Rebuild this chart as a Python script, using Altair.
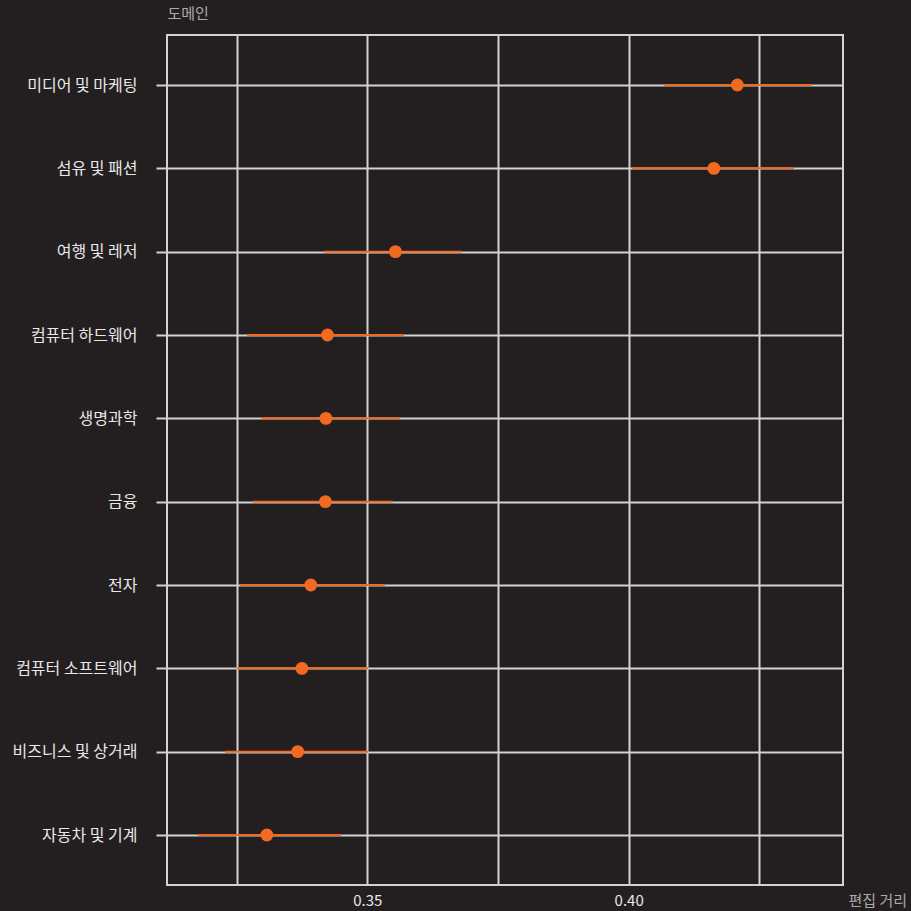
import altair as alt
import pandas as pd

domains = ["미디어 및 마케팅", "섬유 및 패션", "여행 및 레저", "컴퓨터 하드웨어", "생명과학",
           "금융", "전자", "컴퓨터 소프트웨어", "비즈니스 및 상거래", "자동차 및 기계"]
means = [0.4208, 0.4163, 0.3554, 0.3424, 0.3421, 0.3420, 0.3392, 0.3375, 0.3367, 0.3308]
lows = [0.4068, 0.4007, 0.3417, 0.3270, 0.3297, 0.3281, 0.3257, 0.3250, 0.3228, 0.3176]
highs = [0.4350, 0.4316, 0.3681, 0.3570, 0.3562, 0.3549, 0.3534, 0.3502, 0.3502, 0.3451]
grid_values = [0.325, 0.35, 0.375, 0.40, 0.425]

df = pd.DataFrame({"domain": domains, "mean": means, "lo": lows, "hi": highs})

BG = "#231f20"
GRID = "#d2d2d2"
ORANGE = "#f26a22"
FONT = "Noto Sans CJK KR"

xscale = alt.Scale(domain=[0.3117, 0.4410], nice=False, zero=False)
yscale = alt.Scale(type="point", padding=0.6)

xaxis = alt.Axis(
    values=grid_values,
    labelExpr="indexof(['0.35','0.40'], format(datum.value,'.2f')) >= 0 ? format(datum.value,'.2f') : ''",
    grid=True, gridColor=GRID, gridWidth=2,
    ticks=False, domain=False,
    labelPadding=8, labelFontSize=15, labelColor="#e8e8e8", labelFont=FONT,
    title="편집 거리", titleFont=FONT, titleFontSize=15, titleFontWeight="normal",
    titleColor="#a9a9a9", titleX=681, titleY=20, titleAlign="left",
    titleBaseline="alphabetic", titleAngle=0,
)
yaxis = alt.Axis(
    grid=True, gridColor=GRID, gridWidth=2,
    ticks=True, tickColor=GRID, tickWidth=2, tickSize=11,
    domain=False,
    labelPadding=19, labelFontSize=16, labelColor="#e8e8e8", labelFont=FONT,
    title="도메인", titleFont=FONT, titleFontSize=15, titleFontWeight="normal",
    titleColor="#a9a9a9", titleX=0, titleY=-17, titleAlign="left",
    titleBaseline="alphabetic", titleAngle=0,
)

base = alt.Chart(df)
rules = base.mark_rule(color=ORANGE, strokeWidth=2).encode(
    x=alt.X("lo:Q", scale=xscale, axis=xaxis),
    x2="hi:Q",
    y=alt.Y("domain:N", sort=domains, scale=yscale, axis=yaxis),
)
points = base.mark_circle(color=ORANGE, size=165, opacity=1).encode(
    x=alt.X("mean:Q", scale=xscale),
    y=alt.Y("domain:N", sort=domains, scale=yscale),
)

chart = (rules + points).properties(
    width=676, height=850,
    autosize=alt.AutoSizeParams(type="none"),
    padding={"left": 167, "top": 35, "right": 68, "bottom": 26},
    background=BG,
).configure_view(stroke=GRID, strokeWidth=2)

chart.save("out.html", embed_options={"renderer": "svg", "actions": False})
